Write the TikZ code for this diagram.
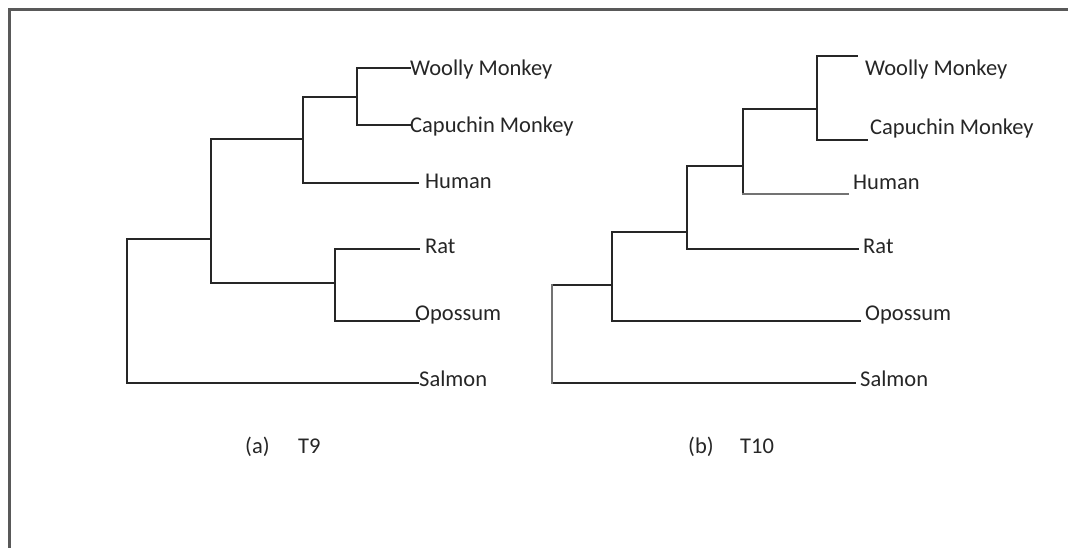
\documentclass[tikz,border=0pt]{standalone}
\usepackage{fontspec}
\setmainfont{Carlito}
\begin{document}
\begin{tikzpicture}[x=1pt,y=-1pt,
  br/.style={line width=1.7pt, draw=black!85, line cap=rect},
  gbr/.style={line width=2.2pt, draw=black!55, line cap=rect},
  lbl/.style={anchor=base west, inner sep=0pt, font=\fontsize{22.5}{26}\selectfont, text=black!85},
  frame/.style={line width=3pt, draw=black!65}]
\useasboundingbox (0,0) rectangle (1068,548);
\clip (0,0) rectangle (1068,548);
\fill[white] (0,0) rectangle (1068,548);
% frame
\coordinate (fbl) at (9.5,560);
\coordinate (ftl) at (9.5,9.5);
\coordinate (ftr) at (1080,9.5);
\draw[frame] (fbl) -- (ftl) -- (ftr);

% ---------- tree (a) ----------
\coordinate (a-wm) at (410,68);
\coordinate (a-cm) at (410,125);
\coordinate (a-hu) at (418,183);
\coordinate (a-ra) at (419,249);
\coordinate (a-op) at (419,321);
\coordinate (a-sa) at (418,383);
\coordinate (a-n1) at (357,97);
\coordinate (a-n2) at (303,139);
\coordinate (a-n3) at (211,239);
\coordinate (a-n4) at (335,283);
\coordinate (a-root) at (127,311);

\draw[br] (a-wm) -| (a-n1);
\draw[br] (a-cm) -| (a-n1);
\draw[br] (a-n1) -| (a-n2);
\draw[br] (a-hu) -| (a-n2);
\draw[br] (a-n2) -| (a-n3);
\draw[br] (a-n4) -| (a-n3);
\draw[br] (a-ra) -| (a-n4);
\draw[br] (a-op) -| (a-n4);
\draw[br] (a-n3) -| (a-root);
\draw[br] (a-sa) -| (a-root);

\node[lbl] (a-l1) at (410,76) {Woolly Monkey};
\node[lbl] (a-l2) at (410,133) {Capuchin Monkey};
\node[lbl] (a-l3) at (425,189) {Human};
\node[lbl] (a-l4) at (425,254) {Rat};
\node[lbl] (a-l5) at (415,320) {Opossum};
\node[lbl] (a-l6) at (419,386) {Salmon};
\node[lbl] (a-cap1) at (245,453) {(a)};
\node[lbl] (a-cap2) at (298,453) {T9};

% ---------- tree (b) ----------
\coordinate (b-wm) at (857,56);
\coordinate (b-cm) at (867,140);
\coordinate (b-hu) at (848,194);
\coordinate (b-ra) at (858,249);
\coordinate (b-op) at (860,321);
\coordinate (b-sa) at (855,383);
\coordinate (b-n1) at (817,109);
\coordinate (b-n2) at (743,166);
\coordinate (b-n3) at (687,232);
\coordinate (b-n4) at (612,285);
\coordinate (b-root) at (552,334);

\draw[br] (b-wm) -| (b-n1);
\draw[br] (b-cm) -| (b-n1);
\draw[br] (b-n1) -| (b-n2);
\draw[br] (b-hu) -| (b-n2);
\draw[gbr] (b-hu) -- (b-n2 |- b-hu);
\draw[br] (b-n2) -| (b-n3);
\draw[br] (b-ra) -| (b-n3);
\draw[br] (b-n3) -| (b-n4);
\draw[br] (b-op) -| (b-n4);
\draw[br] (b-n4) -| (b-root);
\draw[br] (b-sa) -| (b-root);
\draw[gbr] (b-root |- b-n4) -- (b-root |- b-sa);

\node[lbl] (b-l1) at (865,76) {Woolly Monkey};
\node[lbl] (b-l2) at (870,135) {Capuchin Monkey};
\node[lbl] (b-l3) at (853,190) {Human};
\node[lbl] (b-l4) at (863,254) {Rat};
\node[lbl] (b-l5) at (865,320) {Opossum};
\node[lbl] (b-l6) at (860,386) {Salmon};
\node[lbl] (b-cap1) at (688,453) {(b)};
\node[lbl] (b-cap2) at (740,453) {T10};
\end{tikzpicture}
\end{document}
